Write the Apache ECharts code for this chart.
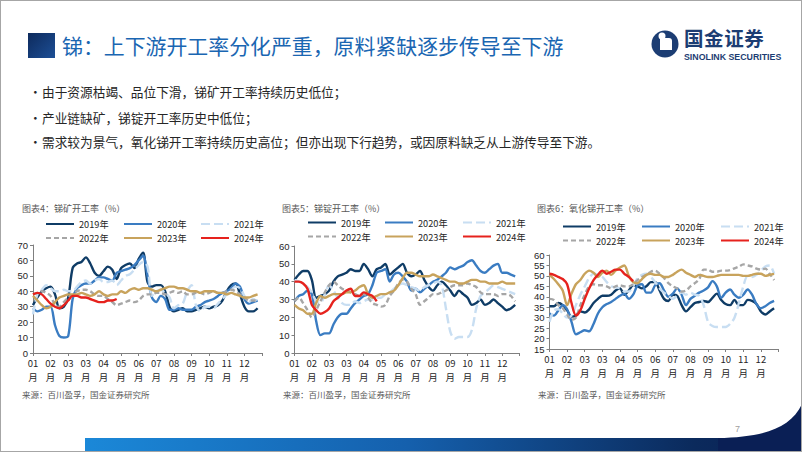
<!DOCTYPE html>
<html>
<head>
<meta charset="utf-8">
<script src="https://cdn.jsdelivr.net/npm/echarts@6/dist/echarts.min.js"></script>
<style>
  body { margin: 0; background: #fff; }
  #page { position: relative; width: 802px; height: 452px; overflow: hidden; background: #fff;
          font-family: "Noto Sans CJK SC", "Noto Sans", sans-serif; }
  #frame { position: absolute; left: 0; top: 0; width: 800px; height: 450px; border: 1px solid #a6a6a6; }
  #tblock { position: absolute; left: 28px; top: 33px; width: 27px; height: 25px;
            background: linear-gradient(135deg, #0d2a5c 0%, #1d4f96 100%); }
  #title { position: absolute; left: 62px; top: 31px; font-size: 20.9px; line-height: 28px; color: #1a66b2; white-space: nowrap; }
  .bul { position: absolute; left: 29px; font-size: 12.7px; line-height: 16px; color: #262626; white-space: nowrap; }
  .bul span.dot { display: inline-block; width: 13px; }
  #logoTxt { position: absolute; left: 684px; top: 27.5px; font-size: 19.5px; line-height: 20px; font-weight: 700; color: #1c3d73; letter-spacing: 0.6px; white-space: nowrap; }
  #logoSub { position: absolute; left: 684px; top: 51.5px; font-family: "Liberation Sans", Arial, sans-serif; font-size: 8.8px; line-height: 10px; font-weight: 700; color: #1c3d73; white-space: nowrap; }
  #pnum { position: absolute; left: 735px; top: 423px; font-family: "Liberation Sans", Arial, sans-serif; font-size: 9px; line-height: 12px; color: #a0a0a0; }
  #chart { position: absolute; left: 0; top: 0; width: 802px; height: 452px; }
  svg.deco { position: absolute; left: 0; top: 0; }
</style>
</head>
<body>
<div id="page">
  <svg class="deco" width="802" height="452">
    <defs>
      <linearGradient id="bar" x1="0" y1="0" x2="1" y2="0">
        <stop offset="0" stop-color="#1b88d8"/>
        <stop offset="0.45" stop-color="#1560ad"/>
        <stop offset="0.85" stop-color="#0b2a5c"/>
        <stop offset="1" stop-color="#0a1f55"/>
      </linearGradient>
    </defs>
    <rect x="85" y="438" width="717" height="14" fill="url(#bar)"/>
    <path d="M718,438 C760,437 790,430 802,404 L802,452 L718,452 Z" fill="#0a1f55"/>
    <circle cx="665" cy="44" r="13.5" fill="#1c3d73"/>
    <path d="M660,38 h9 a3,3 0 0 1 3,3 v9 h-12 z" fill="#fff"/>
    <circle cx="662" cy="36" r="3.5" fill="#fff"/>
  </svg>
  <div id="frame"></div>
  <div id="tblock"></div>
  <div id="title">锑：上下游开工率分化严重，原料紧缺逐步传导至下游</div>
  <div id="logoTxt">国金证券</div>
  <div id="logoSub">SINOLINK SECURITIES</div>
  <div class="bul" style="top:84px"><span class="dot">•</span>由于资源枯竭、品位下滑，锑矿开工率持续历史低位；</div>
  <div class="bul" style="top:110px"><span class="dot">•</span>产业链缺矿，锑锭开工率历史中低位；</div>
  <div class="bul" style="top:134px"><span class="dot">•</span>需求较为景气，氧化锑开工率持续历史高位；但亦出现下行趋势，或因原料缺乏从上游传导至下游。</div>
  <div id="pnum">7</div>
  <div id="chart"></div>
</div>
<script>
// ---------------- data ----------------
const weeks = ['W01','W02','W03','W04','W05','W06','W07','W08','W09','W10','W11','W12','W13','W14','W15','W16','W17','W18','W19','W20','W21','W22','W23','W24','W25','W26','W27','W28','W29','W30','W31','W32','W33','W34','W35','W36','W37','W38','W39','W40','W41','W42','W43','W44','W45','W46','W47','W48','W49','W50','W51','W52','W53'];
const tickLabels = ['01','02','03','03','04','05','06','07','08','09','10','11','12'];
const seriesNames = ['2019年','2020年','2021年','2022年','2023年','2024年'];

// 锑矿开工率
const ore2019 = [31,36,40,42,43,38,29,30,36,55,58,59,62,58,52,50,53,56,54,48,55,57,58,55,61,65,46,43,44,44,40,30,27,28,29,27,27,28,29,30,29,30,31,34,40,44,45,38,30,27,27,29];
const ore2020 = [29,27,28,30,30,18,11,10,11,35,42,44,45,45,47,49,49,48,47,52,53,54,55,57,60,63,50,36,33,37,35,28,28,29,28,28,28,30,31,33,34,35,37,39,40,42,45,43,35,32,33,34];
const ore2021 = [25,38,41,44,42,40,40,41,40,40,43,46,47,45,47,48,46,46,47,44,47,50,51,54,57,59,56,37,40,41,39,36,29,31,32,40,44,31,27,30,30,29,32,35,38,41,43,42,37,33,35,33];
const ore2022 = [38,39,40,39,37,31,30,33,36,38,40,41,41,40,38,37,37,35,33,31,32,33,34,33,34,37,38,38,39,39,38,39,40,39,40,38,38,39,39,38,39,40,39,39,40,41,40,38,36,34,34,34];
const ore2023 = [37,34,31,29,30,33,36,37,38,38,38,39,38,37,38,40,38,37,38,38,40,39,41,42,41,42,42,41,40,41,42,43,43,42,42,41,40,40,39,40,40,40,39,39,38,39,38,37,36,36,37,38];
const ore2024 = [38,39,38,35,32,30,29,31,34,37,37,36,36,35,34,33,33,34,34,35];

// 锑锭开工率
const ingot2019 = [41,44,46,46,41,31,32,33,35,40,43,44,45,47,46,46,50,47,43,47,48,50,44,46,48,50,45,43,44,46,41,37,35,38,40,38,35,32,35,33,31,27,28,30,27,28,30,28,26,24,25,27];
const ingot2020 = [29,32,33,35,33,18,10,11,11,16,20,22,22,25,28,30,32,33,38,45,46,47,40,44,45,43,40,35,36,34,36,38,40,41,43,45,48,47,48,49,51,52,49,46,45,47,49,50,45,45,44,43];
const ingot2021 = [41,40,39,37,34,29,28,33,38,35,31,28,27,27,29,28,29,30,30,31,31,33,34,36,38,39,38,37,36,35,37,38,39,40,38,25,12,8,9,9,9,13,25,32,34,36,38,37,36,35,34,33];
const ingot2022 = [29,31,28,24,20,24,29,34,38,40,38,36,35,34,33,32,33,31,28,27,26,27,32,35,39,41,40,36,33,27,29,31,33,33,34,35,37,38,38,38,39,38,37,34,33,33,33,32,33,33,32,29];
const ingot2023 = [27,25,24,22,22,28,32,31,32,33,33,33,34,34,35,37,38,33,31,32,33,33,34,35,38,42,45,45,44,43,43,43,44,43,42,41,40,40,39,39,40,41,41,40,40,39,39,39,40,39,39,39];
const ingot2024 = [40,40,39,36,27,24,22,23,25,29,31,33,35,36,32,32,34,33,32,29];

// 氧化锑开工率
const oxide2019 = [35.5,35.5,37,36,33.5,30.5,31,33,32.5,34,37,39,40.5,40.5,41,43,44,41,43,45.5,45,44,45,47,47,43,39,38,41,40.5,36,33,35,37,37.5,38,37.5,39.5,41.5,38.5,36.5,36,38.5,36,36,38.5,38,36.5,33,31.5,33,34.5];
const oxide2020 = [32,31,33.5,36,34,28,22,23,24,23.5,27,32,35,36.5,37.5,39,40.5,41.5,39,41,45.5,46,42,42,45.5,46.5,43,40,41.5,44,41,36,39,40.5,42,43,44.5,47.5,45,39.5,42,43.5,41,39.5,41,43.5,41,36.5,34.5,35.5,37,38];
const oxide2021 = [28,33.5,34,32,30,31,36,41,45,49,51,50.5,49.5,47,45,44.5,44,42.5,42.5,45,49,50.5,51,49.5,47,44,42,40.5,39,40.5,42,41,42,41,40.5,36,28,26,25.5,25.5,25.5,27,30,37,45,50,49.5,50.5,52.5,54.5,55,51];
const oxide2022 = [39,38.5,36,34.5,31.5,29,30,36,41,45,46,45.5,45.5,45,44,45,45.5,45,45,46,48,49.5,50.5,52,52.5,51,49,46.5,45,44,42.5,43,45,46.5,48.5,53,53,52,52,52.5,52.5,52.8,53.6,54.4,55.5,55,54.5,53.5,53,53.5,51,48];
const oxide2023 = [50.5,48.5,46,43,36,41.5,46,48,51,52.5,51.5,49.5,51.5,52.5,50.5,52.5,54,55,50,47,46.5,48.5,50.5,51,50.5,50.5,49.5,49.5,50.5,52,53,51.5,50.5,49.5,50.5,50,49.5,49.5,50,50.5,50.5,50.5,50.5,50.5,50,50,50.5,51,51,50,50.5,51];
const oxide2024 = [51,50.5,49.5,48.5,46,37,31,33.5,39,44,48,50.5,52.5,51,52,53,53,51,49.5,47.5];

const chartTitles = ['图表4：锑矿开工率（%）','图表5：锑锭开工率（%）','图表6：氧化锑开工率（%）'];
const sourceText = '来源：百川盈孚，国金证券研究所';

// ---------------- styles / layout ----------------
const colors = ['#0f3c66','#3a7cc2','#c8def2','#a6a6a6','#c8a35c','#e6221d'];
const dashes = ['solid','solid',[9,4],[5,3],'solid','solid'];
const grids = [
  { left: 33,    top: 245, width: 229, height: 108 },
  { left: 294.5, top: 246, width: 225, height: 107 },
  { left: 549.5, top: 255, width: 229, height: 94 }
];
const yRanges = [[0,70,10],[0,60,10],[15,60,5]];
const titlePos = [[22,204],[282,204],[537,204]];
const sourcePos = [[22,390],[283,390],[538,390]];
const legendCols = [[45,123,200],[307,384,462],[562,641,720]];
const legendRows = [[224,238],[222.5,236.5],[226.5,240.5]];
const allData = [
  [ore2019, ore2020, ore2021, ore2022, ore2023, ore2024],
  [ingot2019, ingot2020, ingot2021, ingot2022, ingot2023, ingot2024],
  [oxide2019, oxide2020, oxide2021, oxide2022, oxide2023, oxide2024]
];

const axisColor = '#7f7f7f';
const fontEn = '"Liberation Sans", Arial, sans-serif';
const fontCn = '"Noto Sans CJK SC", sans-serif';

const titles = [], legends = [], xAxes = [], yAxes = [], series = [];
for (let c = 0; c < 3; c++) {
  titles.push({ text: chartTitles[c], left: titlePos[c][0], top: titlePos[c][1], padding: 0,
    textStyle: { fontSize: 9, fontWeight: 'normal', color: '#595959', fontFamily: fontCn } });
  titles.push({ text: sourceText, left: sourcePos[c][0], top: sourcePos[c][1], padding: 0,
    textStyle: { fontSize: 8.5, fontWeight: 'normal', color: '#595959', fontFamily: fontCn } });
  for (let s = 0; s < 6; s++) {
    const row = Math.floor(s / 3), col = s % 3;
    legends.push({
      data: [seriesNames[s]], left: legendCols[c][col], top: legendRows[c][row] - 5,
      itemWidth: 28, itemHeight: 10, itemGap: 0, padding: 0, selectedMode: false,
      itemStyle: { opacity: 0 },
      textStyle: { fontSize: 9.2, lineHeight: 10, color: '#262626', fontFamily: fontCn }
    });
    series.push({
      type: 'line', name: seriesNames[s], xAxisIndex: c, yAxisIndex: c,
      data: allData[c][s], smooth: 0.3, symbol: 'none', z: 2 + s,
      lineStyle: { color: colors[s], width: 2.4, type: dashes[s] },
      itemStyle: { color: colors[s] }
    });
  }
  xAxes.push({
    type: 'category', gridIndex: c, data: weeks, boundaryGap: false,
    axisLine: { lineStyle: { color: axisColor, width: 1 } },
    axisTick: { show: true, interval: 3, length: 3, lineStyle: { color: axisColor } },
    axisLabel: {
      interval: 3, margin: 3, fontSize: 9.5, lineHeight: 14, color: '#262626', fontFamily: fontCn,
      formatter: function (v) {
        const k = weeks.indexOf(v) / 4;
        return k < tickLabels.length ? tickLabels[k] + '\n月' : '';
      }
    },
    splitLine: { show: false }
  });
  yAxes.push({
    type: 'value', gridIndex: c, min: yRanges[c][0], max: yRanges[c][1], interval: yRanges[c][2],
    axisLine: { show: true, lineStyle: { color: axisColor, width: 1 } },
    axisTick: { show: true, length: 3, lineStyle: { color: axisColor } },
    axisLabel: { fontSize: 9.5, color: '#262626', margin: 5, fontFamily: fontEn },
    splitLine: { show: false }
  });
}

const chart = echarts.init(document.getElementById('chart'), null, { renderer: 'svg' });
chart.setOption({
  animation: false,
  backgroundColor: 'transparent',
  title: titles,
  legend: legends,
  grid: grids.map(g => Object.assign({ containLabel: false }, g)),
  xAxis: xAxes,
  yAxis: yAxes,
  series: series
});
</script>
</body>
</html>
